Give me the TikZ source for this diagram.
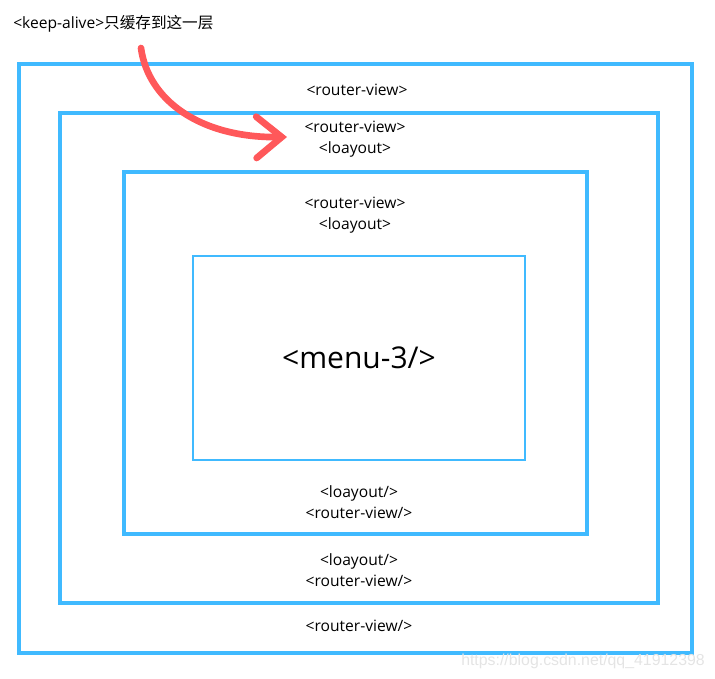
\documentclass[tikz,border=0pt]{standalone}
\usepackage{fontspec}
\setmainfont{Open Sans}
\newfontfamily\cjk{Noto Sans CJK SC}
\newfontfamily\wmfont{Liberation Sans}
\usetikzlibrary{arrows.meta}
\definecolor{boxblue}{RGB}{64,186,255}
\definecolor{arrowred}{RGB}{255,88,90}
\definecolor{wmgray}{RGB}{228,228,228}

\begin{document}
\begin{tikzpicture}[x=0.75pt,y=-0.75pt,
        frame/.style = {draw=boxblue, line width=2.3pt, inner sep=0pt},
        tag/.style = {font=\fontsize{11.7}{15.9}\selectfont, align=center, inner sep=0pt},
        redarrow/.style = {draw=arrowred, line width=5pt, line cap=round,
            -{Straight Barb[length=19pt,width=31pt,line cap=round]}}]
        \useasboundingbox (0,0) rectangle (715,679);
        % nested frames
        \node[frame, minimum width=504.75pt, minimum height=441.75pt] (view1) at (355.5,358.5) {};
        \node[frame, minimum width=448.5pt, minimum height=367.5pt] (view2) at (359,358) {};
        \node[frame, minimum width=347.25pt, minimum height=271.5pt] (view3) at (355.5,353) {};
        \node[frame, line width=1.6pt, minimum width=249pt, minimum height=153pt] (menu) at (359,358) {};
        % texts
        \node[tag, anchor=west] (keep) at (13,24) {<keep-alive>{\cjk 只缓存到这一层}};
        \node[tag] (open1) at (357,89.5) {<router-view>};
        \node[tag] (open2) at (355,139.5) {<router-view>\\<loayout>};
        \node[tag] (open3) at (355,215) {<router-view>\\<loayout>};
        \node[font=\fontsize{22.5}{27}\selectfont, inner sep=0pt] (name) at (359,358) {<menu-3/>};
        \node[tag] (close3) at (359,502) {<loayout/>\\<router-view/>};
        \node[tag] (close2) at (359,570) {<loayout/>\\<router-view/>};
        \node[tag] (close1) at (359,625.5) {<router-view/>};
        \node[font=\wmfont\fontsize{11.9}{14}\selectfont, text=wmgray, inner sep=0pt] (mark) at (583,661) {https://blog.csdn.net/qq\_41912398};
        % arrow
        \coordinate (src) at (141,48);
        \coordinate (dst) at (287,137);
        \draw[redarrow] (src) .. controls (148,100) and (200,138) .. (dst);
\end{tikzpicture}
\end{document}
